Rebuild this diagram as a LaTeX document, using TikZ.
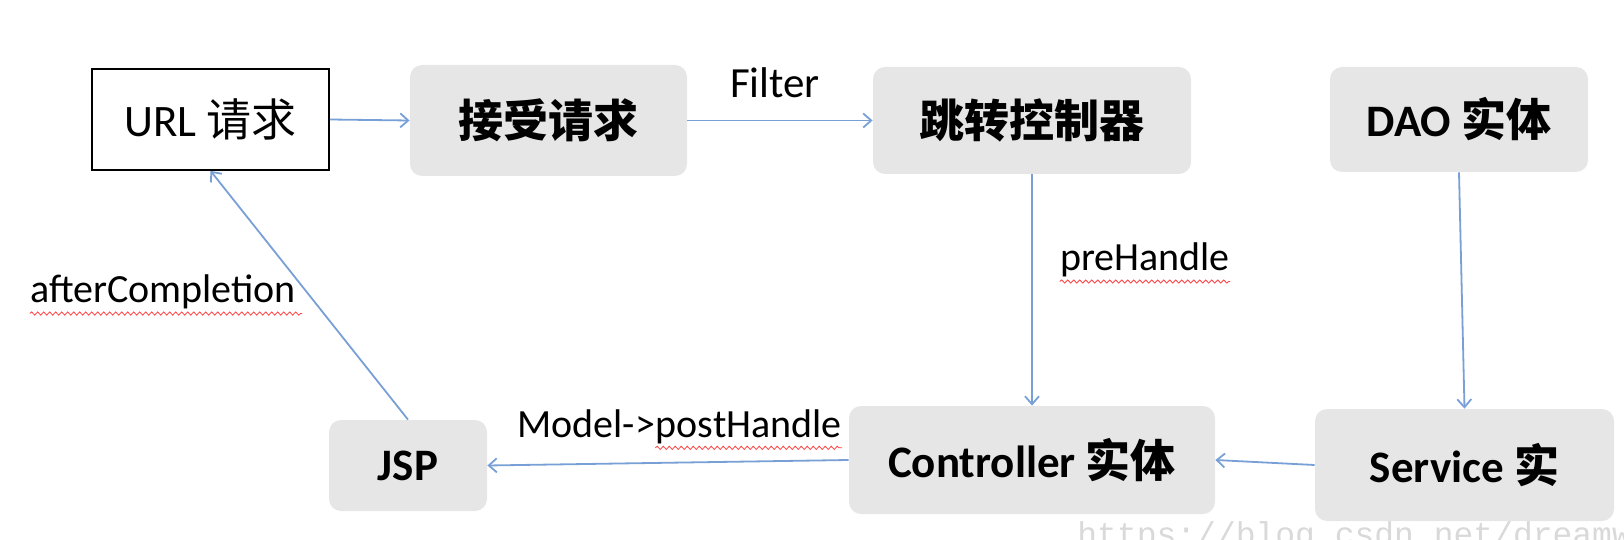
\documentclass[tikz,border=0pt]{standalone}
\usepackage{fontspec}
\setmainfont{Carlito}
\newfontfamily\cjk{Noto Sans CJK SC}
\newfontfamily\wmfont{Liberation Mono}
\usetikzlibrary{arrows.meta, decorations.pathmorphing}
\definecolor{flowblue}{RGB}{120,160,215}
\definecolor{boxgray}{RGB}{230,230,230}

\begin{document}
\begin{tikzpicture}[x=0.5pt, y=-0.5pt, >={Straight Barb[length=4pt,width=7pt]},
	box/.style={fill=boxgray, rounded corners=6pt, inner sep=0pt, font=\fontsize{22.5}{27}\selectfont\bfseries},
	urlbox/.style={draw=black, fill=white, line width=0.8pt, inner sep=0pt, font=\fontsize{22.5}{27}\selectfont},
	flow/.style={->, draw=flowblue, line width=0.9pt},
	lbl/.style={inner sep=0pt, font=\fontsize{20}{24}\selectfont},
	squiggle/.style={draw=red!75, line width=0.4pt, decorate, decoration={snake, amplitude=0.8pt, segment length=3pt}}]
	\useasboundingbox (0,0) rectangle (1624,540);
	
	% top row
	\node[urlbox, minimum width=118.5pt, minimum height=50.5pt] (url) at (210.5,119.5) {URL {\cjk 请求}};
	\node[box, minimum width=138.5pt, minimum height=55.5pt] (accept) at (548.5,120.5) {\cjk 接受请求};
	\node[box, minimum width=159pt, minimum height=53.5pt] (dispatch) at (1032,120.5) {\cjk 跳转控制器};
	\node[box, minimum width=129pt, minimum height=52.5pt] (dao) at (1459,119.5) {DAO {\cjk 实体}};
	
	% bottom row
	\node[box, minimum width=79pt, minimum height=45.5pt] (jsp) at (408,465.5) {JSP};
	\node[box, minimum width=183pt, minimum height=54pt] (ctrl) at (1032,460) {Controller {\cjk 实体}};
	\node[box, minimum width=149.5pt, minimum height=56pt] (svc) at (1464.5,465) {Service {\cjk 实}};
	
	% arrows
	\draw[flow] (url.east) -- (accept.west);
	\draw[flow] (accept.east) -- (dispatch.west);
	\draw[flow] (dispatch.south) -- (ctrl.north);
	\draw[flow] (dao.south) -- (svc.north);
	\draw[flow] (svc.west) -- (ctrl.east);
	\draw[flow] (ctrl.west) -- (jsp.east);
	\draw[flow] (jsp.north) -- (url.south);
	
	% labels
	\node[lbl, font=\fontsize{21.5}{25}\selectfont] (filter) at (775,83) {Filter};
	\node[lbl] (pre) at (1145,260) {preHandle};
	\node[lbl, anchor=base west] (model) at (517,437) {Model->};
	\node[lbl, anchor=base west] (post) at (model.base east) {postHandle};
	\node[lbl] (after) at (163,292) {afterCompletion};
	\draw[squiggle] ([yshift=-2pt]pre.south west) -- ([yshift=-2pt]pre.south east);
	\draw[squiggle] ([yshift=-2pt]post.south west) -- ([yshift=-2pt]post.south east);
	\draw[squiggle] ([yshift=-2pt]after.south west) -- ([yshift=-2pt,xshift=3pt]after.south east);
	
	% watermark
	\node[inner sep=0pt, anchor=base west, text=black!15, font=\wmfont\fontsize{16.5}{20}\selectfont] (wmark) at (1077,545) {https://blog.csdn.net/dreamw};
\end{tikzpicture}
\end{document}
